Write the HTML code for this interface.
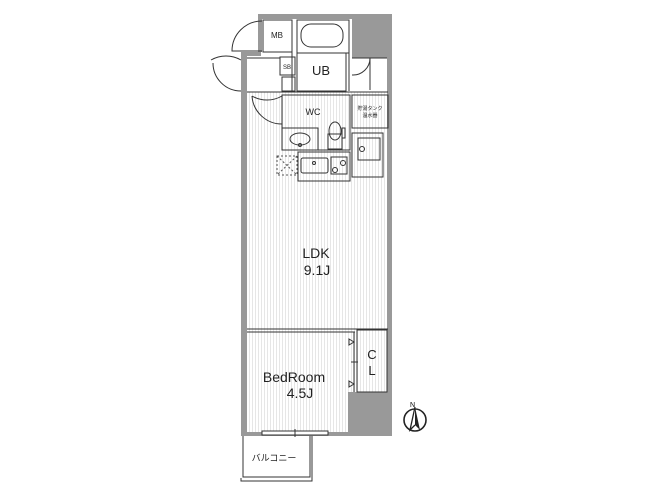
<!DOCTYPE html>
<html><head><style>html,body{margin:0;padding:0;background:#fff;}svg{display:block;}</style></head>
<body>
<svg width="649" height="496" viewBox="0 0 649 496" xmlns="http://www.w3.org/2000/svg" font-family="Liberation Sans, Noto Sans CJK JP, sans-serif">
<defs>
<pattern id="fl" width="3" height="10" patternUnits="userSpaceOnUse"><rect width="3" height="10" fill="#fff"/><line x1="0.5" y1="0" x2="0.5" y2="10" stroke="#e6e6e6" stroke-width="1"/></pattern>
</defs>
<rect width="649" height="496" fill="#fff"/>
<rect x="247" y="92" width="141" height="340" fill="url(#fl)"/>
<g fill="#999">
<rect x="258" y="14" width="134" height="5"/>
<rect x="352" y="14" width="40" height="44"/>
<rect x="258" y="14" width="4" height="38"/>
<rect x="241" y="52" width="6" height="384"/>
<rect x="241" y="52" width="20" height="4"/>
<rect x="387" y="58" width="5" height="378"/>
<rect x="241" y="432" width="151" height="4"/>
<rect x="348" y="392" width="44" height="44"/>
</g>
<g fill="none" stroke="#333" stroke-width="1">
<rect x="263" y="20" width="29" height="32"/>
<rect x="297" y="20" width="52" height="33"/>
<rect x="301" y="24" width="42" height="23" rx="10"/>
<rect x="297" y="53" width="49" height="38"/>
<line x1="292" y1="20" x2="292" y2="92"/>
<line x1="349" y1="20" x2="349" y2="91"/>
<rect x="280" y="57" width="15" height="18"/>
<rect x="282" y="77" width="13" height="14"/>
<line x1="247" y1="92" x2="388" y2="92"/>
<line x1="247" y1="58" x2="280" y2="58"/>
<rect x="282" y="95" width="68" height="55"/>
<rect x="282" y="128" width="36" height="22"/>
<ellipse cx="300" cy="139" rx="10" ry="6"/>
<circle cx="300" cy="145" r="1.5"/>
<rect x="328" y="134" width="14" height="15"/>
<ellipse cx="335" cy="131" rx="6" ry="9"/>
<rect x="342" y="128" width="3" height="10"/>
<rect x="352" y="95" width="36" height="33"/>
<rect x="352" y="133" width="31" height="44"/>
<rect x="358" y="138" width="22" height="22"/>
<circle cx="362" cy="149" r="2.5"/>
<rect x="298" y="152" width="52" height="29"/>
<rect x="301" y="158" width="27" height="15" rx="2"/>
<circle cx="314" cy="163" r="1.5"/>
<rect x="331" y="157" width="16" height="17"/>
<circle cx="343" cy="163" r="2.5"/>
<circle cx="335" cy="170" r="2.5"/>
<line x1="247" y1="329" x2="388" y2="329"/>
<line x1="247" y1="332" x2="355" y2="332"/>
<rect x="357" y="330" width="30" height="62"/>
<line x1="354" y1="332" x2="354" y2="392"/>
<line x1="351" y1="362" x2="358" y2="362"/>
<path d="M354 342 l-5 -3 v6 z M354 384 l-5 -3 v6 z"/>
<path d="M243 436 V477 H310 V436"/>
<path d="M241 478 V481 H312 V436"/>
<rect x="262" y="431" width="66" height="4" fill="#fff"/>
<line x1="295" y1="429" x2="295" y2="437"/>
<path d="M262 21 A30 30 0 0 0 232 51 H262"/>
<path d="M241 60 A30 30 0 0 0 211 60"/>
<path d="M213 63 A28 28 0 0 0 241 91"/>
<path d="M282 96 A30 30 0 0 1 252 96"/>
<path d="M252 96 A30 30 0 0 0 282 124"/>
<path d="M352 75 A17 17 0 0 0 370 58"/>
<line x1="352" y1="58" x2="387" y2="58"/>
<line x1="370" y1="58" x2="370" y2="90"/>
</g>
<rect x="277" y="156" width="20" height="19" fill="none" stroke="#555" stroke-dasharray="2,2"/>
<path d="M277 156 L297 175 M297 156 L277 175" stroke="#555" stroke-dasharray="2,2"/>
<circle cx="415" cy="420" r="11" fill="none" stroke="#222" stroke-width="1.6"/>
<path d="M415 407 L420 430 L415 425 Z" fill="#222"/>
<path d="M415 407 L410 430 L415 425" fill="none" stroke="#222" stroke-width="1.3"/>
<text x="410" y="407" font-size="7">N</text>
<g fill="#222" text-anchor="middle">
<text x="277" y="38" font-size="8">MB</text>
<text x="287" y="69" font-size="6">SB</text>
<text x="321" y="75" font-size="13">UB</text>
<text x="313" y="115" font-size="9">WC</text>
<text x="370" y="110" font-size="5">貯湯タンク</text>
<text x="370" y="117" font-size="5">温水器</text>
<text x="316" y="258" font-size="14">LDK</text>
<text x="317" y="275" font-size="14">9.1J</text>
<text x="372" y="359" font-size="13">C</text>
<text x="372" y="375" font-size="13">L</text>
<text x="294" y="382" font-size="14">BedRoom</text>
<text x="300" y="398" font-size="14">4.5J</text>
<text x="274" y="461" font-size="9">バルコニー</text>
</g>
</svg>
</body></html>
